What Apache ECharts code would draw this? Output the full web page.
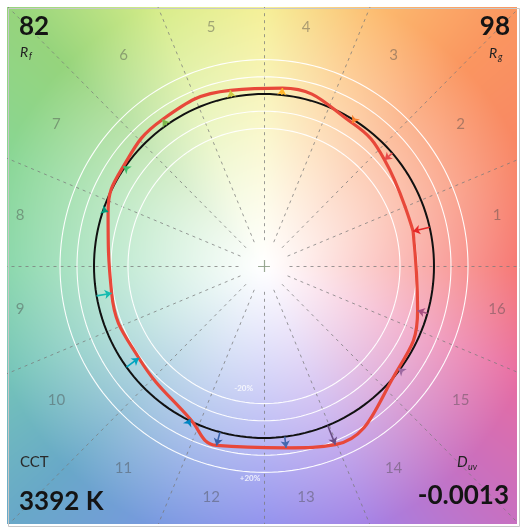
<!DOCTYPE html>
<html>
<head>
<meta charset="utf-8">
<script src="https://cdn.jsdelivr.net/npm/echarts@6/dist/echarts.min.js"></script>
<style>
  html, body { margin: 0; padding: 0; background: #ffffff; }
  #chart { width: 523px; height: 529px; }
</style>
</head>
<body>
<div id="chart"></div>
<script>
// ---- Chart values -------------------------------------------------------
const binLabels   = ['1','2','3','4','5','6','7','8','9','10','11','12','13','14','15','16'];
// average hue angle of each bin (degrees, counter-clockwise from +a')
const binHueAngle = [13, 41, 58, 84, 101, 125, 145, 161, 190, 216, 244, 255, 277, 292, 323, 344];
// normalised chroma of the test source in each bin (reference = 1)
const testChroma  = [0.90, 0.94, 0.98, 1.04, 1.04, 1.04, 1.01, 0.97, 0.91, 0.91, 0.99, 1.08, 1.065, 1.12, 0.99, 0.94];
const guideRings  = [0.8, 0.9, 1.1, 1.2];
const ringTags    = ['-20%', '+20%'];
const fidelityRf  = 82;
const gamutRg     = 98;
const cctText     = '3392 K';
const duvText     = '-0.0013';

// ---- Styling ------------------------------------------------------------
const binColors = ['#e62828','#e74b4b','#fb812e','#ffb529','#cbca46','#7eb94c','#41c06d','#009c7c',
                   '#16bcb0','#00a4bf','#0085c3','#3b62aa','#4568ae','#6a4e85','#9d69a1','#a74f81'];
const BOX = { left: 7, top: 7, width: 510, height: 517 };
const CX = 264, CY = 266, RX = 170, RY = 172;          // plot centre and unit radius in px
const X_MIN = (BOX.left - CX) / RX, X_MAX = (BOX.left + BOX.width - CX) / RX;
const Y_MAX = (CY - BOX.top) / RY,  Y_MIN = (CY - BOX.top - BOX.height) / RY;
// bin-number placement: a slightly squared ring around the plot
const LABEL_RING = { rx: 1.43, ry: 1.36, bulge: 0.09, du: -0.032, dv: 0.023 };
const FONT = 'Lato, "Noto Sans", sans-serif';

// hue wheel used for the backdrop
const hueStops = [
  [0,[245,105,100]],[22.5,[248,132,100]],[45,[250,150,96]],[67.5,[252,190,112]],
  [90,[244,238,140]],[112.5,[214,236,136]],[135,[150,212,124]],[157.5,[136,214,148]],
  [180,[128,212,164]],[202.5,[116,196,184]],[225,[104,168,200]],[247.5,[120,152,224]],
  [270,[136,136,236]],[292.5,[164,128,228]],[315,[200,112,192]],[337.5,[232,108,160]],
  [360,[245,105,100]]
];
function hueRGB(deg) {
  for (let i = 0; i < hueStops.length - 1; i++) {
    const a = hueStops[i], b = hueStops[i + 1];
    if (deg >= a[0] && deg <= b[0]) {
      const t = (deg - a[0]) / (b[0] - a[0]);
      return [0,1,2].map(k => a[1][k] + (b[1][k] - a[1][k]) * t);
    }
  }
  return hueStops[0][1];
}
function buildBackdrop() {
  const c = document.createElement('canvas');
  c.width = BOX.width; c.height = BOX.height;
  const ctx = c.getContext('2d');
  const img = ctx.createImageData(BOX.width, BOX.height);
  for (let j = 0; j < BOX.height; j++) {
    for (let i = 0; i < BOX.width; i++) {
      const u = (BOX.left + i + 0.5 - CX) / RX;
      const v = (CY - (BOX.top + j + 0.5)) / RY;
      let deg = Math.atan2(v, u) * 180 / Math.PI; if (deg < 0) deg += 360;
      const r = Math.sqrt(u * u + v * v);
      const s = Math.pow(Math.min(1, r / 1.65), 1.1);
      const col = hueRGB(deg);
      const p = (j * BOX.width + i) * 4;
      img.data[p]     = 255 + (col[0] - 255) * s;
      img.data[p + 1] = 255 + (col[1] - 255) * s;
      img.data[p + 2] = 255 + (col[2] - 255) * s;
      img.data[p + 3] = 255;
    }
  }
  ctx.putImageData(img, 0, 0);
  return c;
}

// ---- Geometry helpers -----------------------------------------------------
const rad = d => d * Math.PI / 180;
const polar = (r, deg) => [r * Math.cos(rad(deg)), r * Math.sin(rad(deg))];
function ring(r) {
  const pts = [];
  for (let d = 0; d <= 360; d += 2) pts.push(polar(r, d));
  return pts;
}
// spoke end on the frame edge
function spokeEnd(deg) {
  const c = Math.cos(rad(deg)), s = Math.sin(rad(deg));
  let t = Infinity;
  if (c > 1e-9) t = Math.min(t, X_MAX / c);
  if (c < -1e-9) t = Math.min(t, X_MIN / c);
  if (s > 1e-9) t = Math.min(t, Y_MAX / s);
  if (s < -1e-9) t = Math.min(t, Y_MIN / s);
  return [t * c, t * s];
}

const spokes = [];
for (let k = 0; k < 16; k++) {
  const deg = k * 22.5;
  spokes.push({ coords: [polar(0.15, deg), spokeEnd(deg)] });
}

const testPts = binHueAngle.map((a, i) => polar(testChroma[i], a));
const testLoop = testPts.concat([testPts[0]]);
const arrows = binHueAngle.map((a, i) => ({
  coords: [polar(1, a), testPts[i]],
  lineStyle: { color: binColors[i] }
}));
const labelPts = binLabels.map((name, i) => {
  const deg = 11.25 + 22.5 * i;
  const L = LABEL_RING;
  const rv = L.ry + L.bulge * Math.abs(Math.sin(rad(2 * deg)));
  return { name, value: [L.rx * Math.cos(rad(deg)) + L.du, rv * Math.sin(rad(deg)) + L.dv] };
});

const lineBase = { type: 'line', showSymbol: false, symbol: 'none', silent: true, animation: false, clip: true };

const series = [
  { type: 'lines', coordinateSystem: 'cartesian2d', silent: true, animation: false, z: 1,
    lineStyle: { color: '#7a7a7a', width: 1, type: [3, 4], opacity: 0.75 }, data: spokes },
  { type: 'lines', coordinateSystem: 'cartesian2d', silent: true, animation: false, z: 1,
    lineStyle: { color: '#8fa088', width: 1.2, opacity: 0.9 },
    data: [{ coords: [[-0.035, 0], [0.035, 0]] }, { coords: [[0, -0.035], [0, 0.035]] }] }
];
guideRings.forEach(r => series.push(Object.assign({}, lineBase, {
  z: 2, data: ring(r), lineStyle: { color: '#ffffff', width: 1.1, opacity: 0.95 }
})));
series.push(Object.assign({}, lineBase, {
  z: 3, data: ring(1), lineStyle: { color: '#111111', width: 2 }
}));
series.push(Object.assign({}, lineBase, {
  z: 4, data: testLoop, smooth: 0.45, lineStyle: { color: '#e8483a', width: 3.2 }
}));
series.push({
  type: 'lines', coordinateSystem: 'cartesian2d', silent: true, animation: false, z: 5,
  symbol: ['none', 'arrow'], symbolSize: 7,
  lineStyle: { width: 1.6, opacity: 1 }, data: arrows
});
series.push({
  type: 'scatter', silent: true, animation: false, z: 6, symbolSize: 0,
  data: labelPts,
  label: { show: true, position: 'inside', formatter: p => p.name,
           fontFamily: FONT, fontSize: 15, color: 'rgba(70,70,70,0.55)' }
});
series.push({
  type: 'scatter', silent: true, animation: false, z: 6, symbolSize: 0,
  data: [{ name: ringTags[0], value: [-0.12, -0.71] }, { name: ringTags[1], value: [-0.082, -1.233] }],
  label: { show: true, position: 'inside', formatter: p => p.name,
           fontFamily: FONT, fontSize: 8, fontWeight: 'bold', color: '#ffffff' }
});

const chart = echarts.init(document.getElementById('chart'), null, { renderer: 'canvas' });
chart.setOption({
  animation: false,
  backgroundColor: '#ffffff',
  grid: { left: BOX.left, top: BOX.top, width: BOX.width, height: BOX.height, containLabel: false },
  xAxis: { type: 'value', min: X_MIN, max: X_MAX, show: false },
  yAxis: { type: 'value', min: Y_MIN, max: Y_MAX, show: false },
  graphic: [
    { type: 'image', left: BOX.left, top: BOX.top, z: -10, silent: true,
      style: { image: buildBackdrop(), width: BOX.width, height: BOX.height } },
    { type: 'rect', left: BOX.left - 1, top: BOX.top - 1, z: 50, silent: true,
      shape: { width: BOX.width + 1, height: BOX.height + 1 },
      style: { fill: 'none', stroke: '#c8c8c8', lineWidth: 1 } },
    { type: 'text', left: 19, top: 14, z: 50, style: { text: String(fidelityRf), font: 'bold 26px ' + FONT, fill: '#141414' } },
    { type: 'text', left: 20, top: 45, z: 50, style: { text: 'R', font: 'italic 14px ' + FONT, fill: '#222' } },
    { type: 'text', left: 29, top: 52, z: 50, style: { text: 'f', font: 'italic 9px ' + FONT, fill: '#222' } },
    { type: 'text', right: 13, top: 14, z: 50, style: { text: String(gamutRg), font: 'bold 26px ' + FONT, fill: '#141414' } },
    { type: 'text', left: 489, top: 46, z: 50, style: { text: 'R', font: 'italic 14px ' + FONT, fill: '#222' } },
    { type: 'text', left: 498, top: 53, z: 50, style: { text: 'g', font: 'italic 9px ' + FONT, fill: '#222' } },
    { type: 'text', left: 20, top: 455, z: 50, style: { text: 'CCT', font: '15px ' + FONT, fill: '#2a2a2a' } },
    { type: 'text', left: 19, top: 489, z: 50, style: { text: cctText, font: 'bold 26px ' + FONT, fill: '#141414' } },
    { type: 'text', left: 457, top: 455, z: 50, style: { text: 'D', font: 'italic 15px ' + FONT, fill: '#222' } },
    { type: 'text', left: 468, top: 463, z: 50, style: { text: 'uv', font: 'italic 9px ' + FONT, fill: '#222' } },
    { type: 'text', right: 14, top: 483, z: 50, style: { text: duvText, font: 'bold 26px ' + FONT, fill: '#141414' } }
  ],
  series
});
</script>
</body>
</html>
